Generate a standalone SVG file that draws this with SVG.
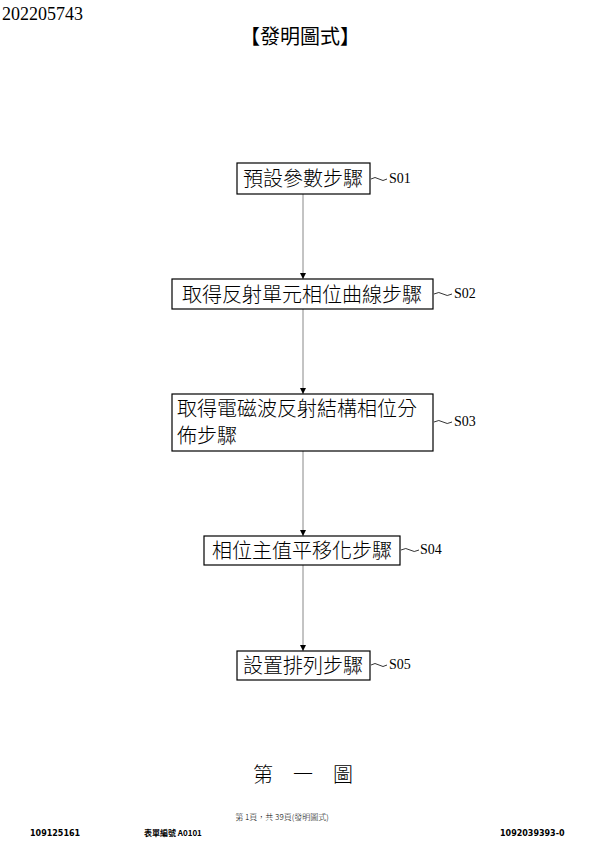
<svg xmlns="http://www.w3.org/2000/svg" width="600" height="849" viewBox="0 0 600 849">
<defs><marker id="a" viewBox="0 0 6 10" markerWidth="6" markerHeight="10" refX="6" refY="5" orient="auto" markerUnits="userSpaceOnUse"><path d="M0,2 L6,5 L0,8 Z" fill="#000"/></marker></defs>
<style>
.b{fill:#fff;stroke:#000;stroke-width:1.2}
.t{font-family:"Noto Sans CJK TC","Noto Sans CJK SC",sans-serif;font-size:20px;font-weight:300}
.l{font-family:"Liberation Serif",serif;font-size:14px}
.c{stroke:#888;stroke-width:1;fill:none}
.w{stroke:#000;stroke-width:0.8;fill:none}
</style>
<rect width="600" height="849" fill="#fff"/>
<text x="2" y="20" font-family="Liberation Serif,serif" font-size="18">202205743</text>
<text x="300" y="44" text-anchor="middle" class="t" style="font-weight:400">【發明圖式】</text>
<g id="connectors">
<line class="c" x1="303" y1="194" x2="303" y2="279" marker-end="url(#a)"/>
<line class="c" x1="303" y1="309" x2="303" y2="394" marker-end="url(#a)"/>
<line class="c" x1="303" y1="451" x2="303" y2="536" marker-end="url(#a)"/>
<line class="c" x1="303" y1="565" x2="303" y2="651" marker-end="url(#a)"/>
</g>
<g id="S01"><rect class="b" x="237" y="163" width="133" height="31"/><text class="t" x="303" y="186" text-anchor="middle">預設參數步驟</text>
<path class="w" d="M371,179 q4,-3 8,0 t8,0"/><text class="l" x="389" y="183">S01</text></g>
<g id="S02"><rect class="b" x="172" y="279" width="261" height="30"/><text class="t" x="302" y="302" text-anchor="middle">取得反射單元相位曲線步驟</text>
<path class="w" d="M434,294 q5,-3 9,0 t9,0"/><text class="l" x="454" y="298">S02</text></g>
<g id="S03"><rect class="b" x="172" y="394" width="261" height="57"/><text class="t" x="177" y="416">取得電磁波反射結構相位分</text><text class="t" x="177" y="443">佈步驟</text>
<path class="w" d="M434,422 q5,-3 9,0 t9,0"/><text class="l" x="454" y="426">S03</text></g>
<g id="S04"><rect class="b" x="204" y="536" width="196" height="29"/><text class="t" x="302" y="558" text-anchor="middle">相位主值平移化步驟</text>
<path class="w" d="M401,550 q5,-3 9,0 t9,0"/><text class="l" x="420" y="554">S04</text></g>
<g id="S05"><rect class="b" x="237" y="651" width="133" height="29"/><text class="t" x="303" y="673" text-anchor="middle">設置排列步驟</text>
<path class="w" d="M371,665 q4,-3 8,0 t8,0"/><text class="l" x="389" y="669">S05</text></g>
<text x="303" y="782" text-anchor="middle" class="t">第　一　圖</text>
<text x="282" y="820" text-anchor="middle" class="t" style="font-size:8px">第 1頁，共 39頁(發明圖式)</text>
<text x="30" y="836" font-family="DejaVu Sans,sans-serif" font-weight="bold" font-size="8">109125161</text>
<text x="144" y="836" class="t" style="font-size:8px;font-weight:700">表單編號 A0101</text>
<text x="500" y="836" font-family="DejaVu Sans,sans-serif" font-weight="bold" font-size="8">1092039393-0</text>
</svg>
